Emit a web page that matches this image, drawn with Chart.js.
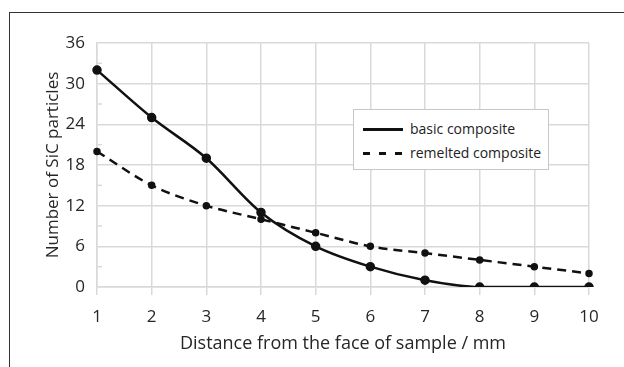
<!DOCTYPE html>
<html>
<head>
<meta charset="utf-8">
<script src="https://cdn.jsdelivr.net/npm/chart.js@4/dist/chart.umd.min.js"></script>
<style>
  html, body { margin: 0; padding: 0; background: #fff; }
  #wrap { position: relative; width: 624px; height: 367px; }
  #frame { position: absolute; left: 9px; top: 12px; right: -2px; bottom: -2px;
           border-top: 1.5px solid #333; border-left: 1.5px solid #333; }
  #legend { position: absolute; left: 353px; top: 109px; width: 194px; height: 59px;
            border: 1px solid #c8c8c8; background: #fff;
            font-family: "Open Sans", sans-serif; font-size: 14px; color: #222; }
  .row { position: absolute; left: 9px; height: 20px; line-height: 20px; }
  .row .sample { position: absolute; left: 0; top: 9px; width: 40px; height: 2.5px; background: #111; }
  .row .sample.dash { background: repeating-linear-gradient(to right, #111 0 7px, transparent 7px 16px); }
  .row .txt { position: absolute; left: 47px; top: 0; white-space: nowrap; }
</style>
</head>
<body>
<div id="wrap">
  <canvas id="chart" width="624" height="367"></canvas>
  <div id="frame"></div>
  <div id="legend"></div>
</div>
<script>
// dados
const distances = ['1', '2', '3', '4', '5', '6', '7', '8', '9', '10'];
const basicComposite = [32, 25, 19, 11, 6, 3, 1, 0, 0, 0];
const remeltedComposite = [20, 15, 12, 10, 8, 6, 5, 4, 3, 2];
const yTicks = [0, 6, 12, 18, 24, 30, 36];
const yMinorTicks = [3, 9, 15, 21, 27, 33];

const seriesNames = ['basic composite', 'remelted composite'];
const fontFamily = '"Open Sans", sans-serif';

// pequenos traços secundários no eixo y
const minorTicks = {
    id: 'minorTicks',
    afterDraw(chart) {
        const y = chart.scales.y;
        const c = chart.ctx;
        c.save();
        c.strokeStyle = '#d9d9d9';
        c.lineWidth = 1.5;
        yMinorTicks.forEach(v => {
            const py = y.getPixelForValue(v);
            c.beginPath();
            c.moveTo(y.right, py);
            c.lineTo(y.right + 5, py);
            c.stroke();
        });
        c.restore();
    }
};

const ctx = document.getElementById('chart').getContext('2d');
const chart = new Chart(ctx, {
    type: 'line',
    data: {
        labels: distances,
        datasets: [{
            label: seriesNames[0],
            data: basicComposite,
            borderColor: '#111',
            backgroundColor: '#111',
            borderWidth: 2.5,
            pointRadius: 3.5,
            cubicInterpolationMode: 'monotone'
        }, {
            label: seriesNames[1],
            data: remeltedComposite,
            borderColor: '#111',
            backgroundColor: '#111',
            borderWidth: 2.5,
            borderDash: [9, 6],
            pointRadius: 2.5,
            cubicInterpolationMode: 'monotone'
        }]
    },
    options: {
        responsive: false,
        animation: false,
        layout: { padding: { left: 40, top: 43, right: 35, bottom: 0 } },
        plugins: {
            legend: { display: false },
            tooltip: { enabled: false }
        },
        scales: {
            x: {
                type: 'category',
                offset: false,
                grid: { color: '#d9d9d9', lineWidth: 1.5, offset: false, tickLength: 8, tickColor: '#d9d9d9' },
                border: { color: '#d9d9d9', width: 1.5 },
                ticks: { color: '#262626', font: { family: fontFamily, size: 17 }, padding: 12, maxRotation: 0 },
                title: {
                    display: true,
                    text: 'Distance from the face of sample / mm',
                    color: '#262626',
                    font: { family: fontFamily, size: 18 },
                    padding: { top: 4, bottom: 12 }
                },
                afterFit: scale => { scale.height = 80; }
            },
            y: {
                min: 0,
                max: 36,
                afterBuildTicks: scale => { scale.ticks = yTicks.map(v => ({ value: v })); },
                grid: { color: '#d9d9d9', lineWidth: 1.5, drawTicks: false },
                border: { color: '#d9d9d9', width: 1.5 },
                ticks: { color: '#262626', font: { family: fontFamily, size: 17 }, padding: 12 },
                title: {
                    display: true,
                    text: 'Number of SiC particles',
                    color: '#262626',
                    font: { family: fontFamily, size: 17 },
                    padding: { top: 3, bottom: 4 }
                },
                afterFit: scale => { scale.width = 57; }
            }
        }
    },
    plugins: [minorTicks]
});

// legenda em HTML a partir dos datasets
const legend = document.getElementById('legend');
chart.data.datasets.forEach((ds, i) => {
    const row = document.createElement('div');
    row.className = 'row';
    row.style.top = (9 + i * 24) + 'px';
    row.innerHTML = '<div class="sample' + (ds.borderDash ? ' dash' : '') + '"></div><div class="txt">' + ds.label + '</div>';
    legend.appendChild(row);
});
</script>
</body>
</html>
